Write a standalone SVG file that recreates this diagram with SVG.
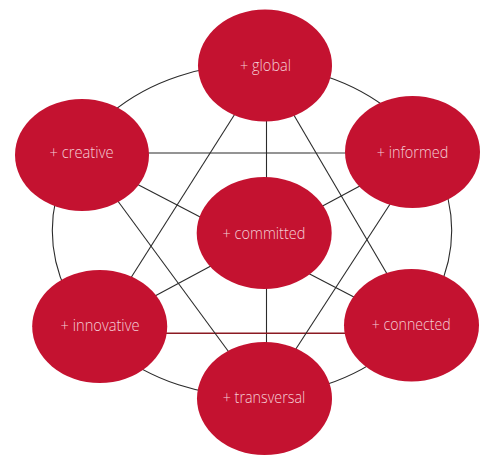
<svg xmlns="http://www.w3.org/2000/svg" width="486" height="459" viewBox="0 0 486 459">
<style>
.node ellipse{fill:#c41230;}
.node text{fill:#f4cdd5;font-family:"Open Sans","Liberation Sans",sans-serif;font-weight:300;font-size:15.5px;text-anchor:middle;}
.ln{stroke:#2b2b2b;stroke-width:1.1;fill:none;}
</style>
<rect width="486" height="459" fill="#ffffff"/>
<g id="connectors">
<ellipse class="ln" cx="252" cy="230.5" rx="199.7" ry="166"/>
<line class="ln" x1="266.5" y1="65" x2="266.5" y2="398"/>
<line class="ln" x1="82" y1="153" x2="310" y2="153"/>
<line x1="310" y1="153" x2="412" y2="153" stroke="#808080" stroke-width="1.4"/>
<line x1="100" y1="333.3" x2="411" y2="333.3" stroke="#8b1a22" stroke-width="1.4"/>
<line class="ln" x1="266" y1="65" x2="100" y2="326.5"/>
<line class="ln" x1="264.5" y1="65" x2="417" y2="325"/>
<line class="ln" x1="82" y1="155.5" x2="411.5" y2="327"/>
<line class="ln" x1="84" y1="155" x2="263" y2="398.5"/>
<line class="ln" x1="412" y1="158" x2="100" y2="325.4"/>
<line class="ln" x1="420" y1="158" x2="264" y2="398"/>
</g>
<g id="node-global" class="node"><ellipse cx="265" cy="65.5" rx="67" ry="56"/><text x="265.5" y="70.5" textLength="51" lengthAdjust="spacingAndGlyphs">+ global</text></g>
<g id="node-creative" class="node"><ellipse cx="82" cy="155" rx="67" ry="56"/><text x="81.5" y="158.3" textLength="64" lengthAdjust="spacingAndGlyphs">+ creative</text></g>
<g id="node-informed" class="node"><ellipse cx="412.5" cy="152" rx="67.5" ry="56"/><text x="412.5" y="157.7" textLength="71.6" lengthAdjust="spacingAndGlyphs">+ informed</text></g>
<g id="node-committed" class="node"><ellipse cx="264.2" cy="233" rx="67.5" ry="56"/><text x="264" y="239" textLength="83" lengthAdjust="spacingAndGlyphs">+ committed</text></g>
<g id="node-innovative" class="node"><ellipse cx="99.7" cy="326.5" rx="67.5" ry="56.5"/><text x="100" y="331" textLength="79" lengthAdjust="spacingAndGlyphs">+ innovative</text></g>
<g id="node-connected" class="node"><ellipse cx="411.5" cy="325.3" rx="67.5" ry="56.3"/><text x="411.3" y="329.5" textLength="79" lengthAdjust="spacingAndGlyphs">+ connected</text></g>
<g id="node-transversal" class="node"><ellipse cx="264.5" cy="398.5" rx="67.5" ry="56.5"/><text x="264" y="403" textLength="82.6" lengthAdjust="spacingAndGlyphs">+ transversal</text></g>
</svg>
